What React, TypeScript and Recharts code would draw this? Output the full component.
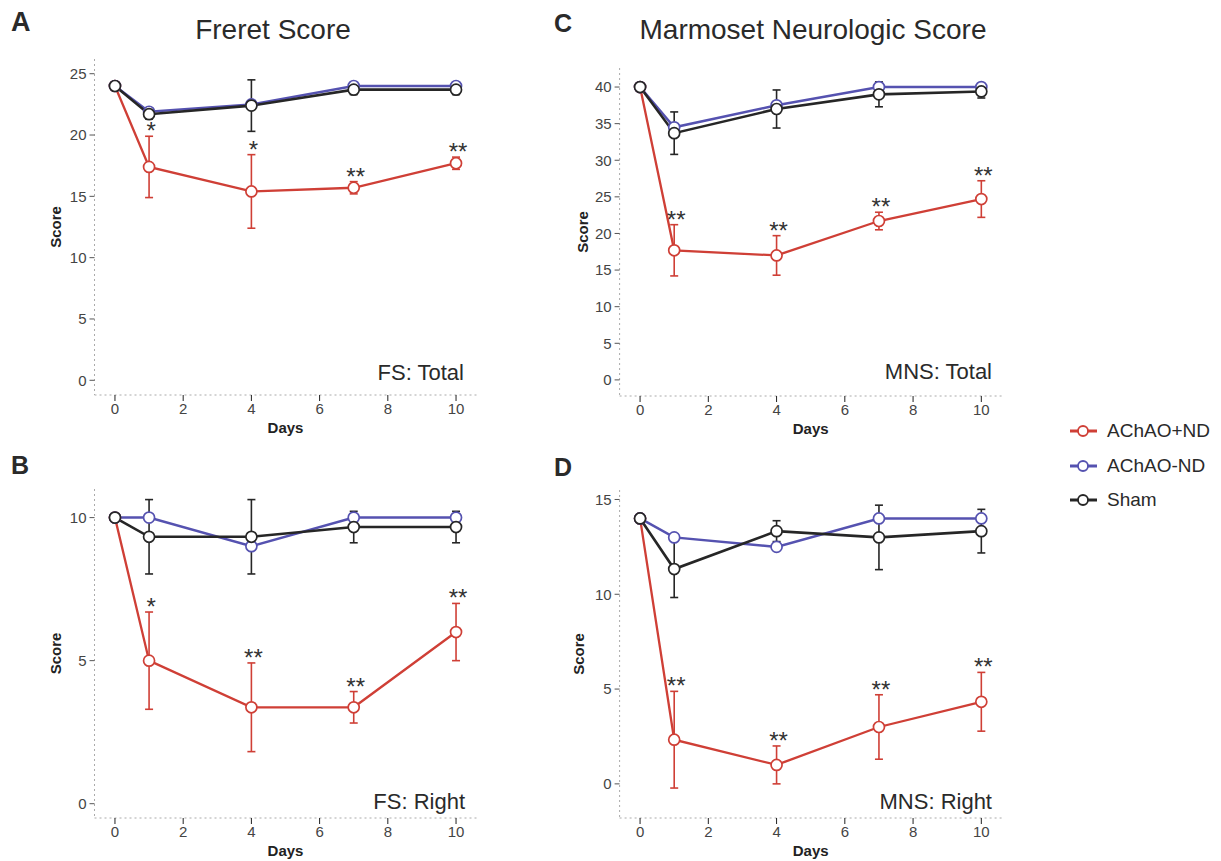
import React from "react"
import {
  LineChart,
  Line,
  XAxis,
  YAxis,
  ErrorBar,
  LabelList,
} from "recharts"

const DAYS = [0, 1, 4, 7, 10]
const X_TICKS = [0, 2, 4, 6, 8, 10]

// A: Freret score, total
const FS_TOTAL_RED = [24, 17.4, 15.4, 15.7, 17.7]
const FS_TOTAL_RED_ERR = [0, 2.5, 3.0, 0.5, 0.5]
const FS_TOTAL_BLUE = [24, 21.9, 22.5, 24, 24]
const FS_TOTAL_SHAM = [24, 21.7, 22.4, 23.7, 23.7]
const FS_TOTAL_SHAM_ERR = [0, 0.4, 2.1, 0.4, 0.4]
const FS_TOTAL_SIG = ["", "*", "*", "**", "**"]

// B: Freret score, right
const FS_RIGHT_RED = [10, 5.0, 3.37, 3.37, 6.0]
const FS_RIGHT_RED_ERR = [0, 1.7, 1.55, 0.55, 1.0]
const FS_RIGHT_BLUE = [10, 10, 9.0, 10, 10]
const FS_RIGHT_SHAM = [10, 9.33, 9.33, 9.67, 9.67]
const FS_RIGHT_SHAM_ERR = [0, 1.3, 1.3, 0.55, 0.55]
const FS_RIGHT_SIG = ["", "*", "**", "**", "**"]

// C: marmoset neurologic score, total
const MNS_TOTAL_RED = [40, 17.7, 17.0, 21.7, 24.7]
const MNS_TOTAL_RED_ERR = [0, 3.5, 2.7, 1.2, 2.5]
const MNS_TOTAL_BLUE = [40, 34.5, 37.5, 40, 40]
const MNS_TOTAL_SHAM = [40, 33.7, 37.0, 39.0, 39.4]
const MNS_TOTAL_SHAM_ERR = [0, 2.9, 2.6, 1.7, 0.9]
const MNS_TOTAL_SIG = ["", "**", "**", "**", "**"]

// D: marmoset neurologic score, right
const MNS_RIGHT_RED = [14, 2.33, 1.0, 3.0, 4.33]
const MNS_RIGHT_RED_ERR = [0, 2.55, 1.0, 1.7, 1.55]
const MNS_RIGHT_BLUE = [14, 13.0, 12.5, 14, 14]
const MNS_RIGHT_SHAM = [14, 11.33, 13.33, 13.0, 13.33]
const MNS_RIGHT_SHAM_ERR = [0, 1.5, 0.55, 1.7, 1.15]
const MNS_RIGHT_SIG = ["", "**", "**", "**", "**"]

const SERIES_NAMES = ["AChAO+ND", "AChAO-ND", "Sham"]

const RED = "#cf3f36"
const BLUE = "#5552b0"
const BLACK = "#262626"
const FONT = "Arial, 'Liberation Sans', sans-serif"

function buildRows(
  red: number[],
  redErr: number[],
  blue: number[],
  sham: number[],
  shamErr: number[],
  sig: string[]
) {
  return DAYS.map((day, i) => ({
    day,
    red: red[i],
    redErr: redErr[i],
    blue: blue[i],
    sham: sham[i],
    shamErr: shamErr[i],
    starY: red[i] + redErr[i],
    sig: sig[i],
  }))
}

const renderStar = (props: any) => {
  const { x, y, value } = props
  if (!value) return null
  return (
    <text
      x={x + 2}
      y={y + 3}
      textAnchor="middle"
      fontSize={24}
      fontFamily={FONT}
      fill="#333"
    >
      {value}
    </text>
  )
}

const dot = (color: string) => ({
  r: 5.5,
  fill: "#fff",
  stroke: color,
  strokeWidth: 1.7,
})

type PanelProps = {
  left: number
  top: number
  width: number
  height: number
  marginTop: number
  marginRight: number
  yWidth: number
  xHeight: number
  domain: [number, number]
  yTicks: number[]
  rows: any[]
  scoreX: number
}

function Panel(p: PanelProps) {
  const frame = { stroke: "#aaa", strokeDasharray: "2 3" }
  return (
    <div style={{ position: "absolute", left: p.left, top: p.top }}>
      <LineChart
        width={p.width}
        height={p.height}
        data={p.rows}
        margin={{ top: p.marginTop, right: p.marginRight, bottom: 0, left: 0 }}
      >
        <XAxis
          dataKey="day"
          type="number"
          domain={[-0.6, 10.6]}
          ticks={X_TICKS}
          height={p.xHeight}
          axisLine={frame}
          tickLine={{ stroke: "#222" }}
          tickSize={6}
          tickMargin={2}
          tick={{ fill: "#444", fontSize: 15, fontFamily: FONT }}
          label={{
            content: (lp: any) => {
              const vb = lp.viewBox
              return (
                <text
                  x={vb.x + vb.width / 2}
                  y={vb.y + 38}
                  textAnchor="middle"
                  fontSize={15}
                  fontWeight="bold"
                  fontFamily={FONT}
                  fill="#222"
                >
                  Days
                </text>
              )
            },
          }}
        />
        <XAxis
          xAxisId="top"
          orientation="top"
          type="number"
          domain={[-0.6, 10.6]}
          height={0}
          tick={false}
          tickLine={false}
          axisLine={frame}
        />
        <YAxis
          type="number"
          domain={p.domain}
          ticks={p.yTicks}
          width={p.yWidth}
          axisLine={frame}
          tickLine={{ stroke: "#555" }}
          tickSize={5}
          tickMargin={3}
          tick={{ fill: "#444", fontSize: 15, fontFamily: FONT }}
          label={{
            content: (lp: any) => {
              const vb = lp.viewBox
              const cy = vb.y + vb.height / 2
              return (
                <text
                  x={p.scoreX}
                  y={cy}
                  transform={`rotate(-90 ${p.scoreX} ${cy})`}
                  textAnchor="middle"
                  dominantBaseline="central"
                  fontSize={15}
                  fontWeight="bold"
                  fontFamily={FONT}
                  fill="#222"
                >
                  Score
                </text>
              )
            },
          }}
        />
        <YAxis
          yAxisId="right"
          orientation="right"
          type="number"
          domain={p.domain}
          width={0}
          tick={false}
          tickLine={false}
          axisLine={frame}
        />
        <Line
          dataKey="red"
          stroke={RED}
          strokeWidth={2.3}
          dot={dot(RED)}
          activeDot={false}
          isAnimationActive={false}
        >
          <ErrorBar
            dataKey="redErr"
            direction="y"
            width={4}
            stroke={RED}
            strokeWidth={1.6}
            isAnimationActive={false}
          />
        </Line>
        <Line
          dataKey="blue"
          stroke={BLUE}
          strokeWidth={2.5}
          dot={dot(BLUE)}
          activeDot={false}
          isAnimationActive={false}
        />
        <Line
          dataKey="sham"
          stroke={BLACK}
          strokeWidth={2.6}
          dot={dot(BLACK)}
          activeDot={false}
          isAnimationActive={false}
        >
          <ErrorBar
            dataKey="shamErr"
            direction="y"
            width={4}
            stroke={BLACK}
            strokeWidth={1.6}
            isAnimationActive={false}
          />
        </Line>
        <Line
          dataKey="starY"
          stroke="none"
          dot={false}
          activeDot={false}
          isAnimationActive={false}
        >
          <LabelList dataKey="sig" content={renderStar} />
        </Line>
      </LineChart>
    </div>
  )
}

const txt = (
  s: string,
  style: React.CSSProperties
) => (
  <div
    style={{
      position: "absolute",
      fontFamily: FONT,
      whiteSpace: "nowrap",
      color: "#2a2a2a",
      ...style,
    }}
  >
    {s}
  </div>
)

export default function App() {
  const colors = [RED, BLUE, BLACK]
  return (
    <div
      style={{
        position: "absolute",
        left: 0,
        top: 0,
        width: 1221,
        height: 861,
        background: "#fff",
        fontFamily: FONT,
      }}
    >
      <Panel
        left={0}
        top={0}
        width={490}
        height={440}
        marginTop={59}
        marginRight={13.5}
        yWidth={94.5}
        xHeight={45}
        domain={[-1.2, 26.2]}
        yTicks={[0, 5, 10, 15, 20, 25]}
        rows={buildRows(FS_TOTAL_RED, FS_TOTAL_RED_ERR, FS_TOTAL_BLUE, FS_TOTAL_SHAM, FS_TOTAL_SHAM_ERR, FS_TOTAL_SIG)}
        scoreX={55}
      />
      <Panel
        left={0}
        top={440}
        width={490}
        height={421}
        marginTop={49}
        marginRight={13.5}
        yWidth={94.5}
        xHeight={43}
        domain={[-0.5, 11]}
        yTicks={[0, 5, 10]}
        rows={buildRows(FS_RIGHT_RED, FS_RIGHT_RED_ERR, FS_RIGHT_BLUE, FS_RIGHT_SHAM, FS_RIGHT_SHAM_ERR, FS_RIGHT_SIG)}
        scoreX={55}
      />
      <Panel
        left={520}
        top={0}
        width={495}
        height={440}
        marginTop={68}
        marginRight={13.2}
        yWidth={99.6}
        xHeight={44}
        domain={[-2.2, 42.6]}
        yTicks={[0, 5, 10, 15, 20, 25, 30, 35, 40]}
        rows={buildRows(MNS_TOTAL_RED, MNS_TOTAL_RED_ERR, MNS_TOTAL_BLUE, MNS_TOTAL_SHAM, MNS_TOTAL_SHAM_ERR, MNS_TOTAL_SIG)}
        scoreX={62}
      />
      <Panel
        left={520}
        top={440}
        width={495}
        height={421}
        marginTop={50}
        marginRight={13.2}
        yWidth={99.6}
        xHeight={43}
        domain={[-1.8, 15.5]}
        yTicks={[0, 5, 10, 15]}
        rows={buildRows(MNS_RIGHT_RED, MNS_RIGHT_RED_ERR, MNS_RIGHT_BLUE, MNS_RIGHT_SHAM, MNS_RIGHT_SHAM_ERR, MNS_RIGHT_SIG)}
        scoreX={58}
      />

      {txt("Freret Score", { left: 123, width: 300, textAlign: "center", top: 16, fontSize: 28, lineHeight: "28px" })}
      {txt("Marmoset Neurologic Score", { left: 563, width: 500, textAlign: "center", top: 16, fontSize: 28, lineHeight: "28px" })}

      {txt("A", { left: 11, top: 9, fontSize: 27, lineHeight: "27px", fontWeight: "bold" })}
      {txt("C", { left: 554, top: 11, fontSize: 25, lineHeight: "25px", fontWeight: "bold" })}
      {txt("B", { left: 11, top: 453, fontSize: 25, lineHeight: "25px", fontWeight: "bold" })}
      {txt("D", { left: 554, top: 455, fontSize: 25, lineHeight: "25px", fontWeight: "bold" })}

      {txt("FS: Total", { right: 1221 - 464, top: 362, fontSize: 22, lineHeight: "22px" })}
      {txt("MNS: Total", { right: 1221 - 992, top: 361, fontSize: 22, lineHeight: "22px" })}
      {txt("FS: Right", { right: 1221 - 465, top: 791, fontSize: 22, lineHeight: "22px" })}
      {txt("MNS: Right", { right: 1221 - 992, top: 791, fontSize: 22, lineHeight: "22px" })}

      {SERIES_NAMES.map((name, i) => (
        <div
          key={name}
          style={{
            position: "absolute",
            left: 1068,
            top: 421 + i * 34.5,
            height: 20,
            display: "flex",
            alignItems: "center",
          }}
        >
          <svg width={32} height={20}>
            <line x1={2} y1={10} x2={29} y2={10} stroke={colors[i]} strokeWidth={3} />
            <circle cx={15} cy={10} r={5} fill="#fff" stroke={colors[i]} strokeWidth={1.8} />
          </svg>
          <span style={{ marginLeft: 7, fontSize: 19, color: "#2a2a2a" }}>{name}</span>
        </div>
      ))}
    </div>
  )
}
